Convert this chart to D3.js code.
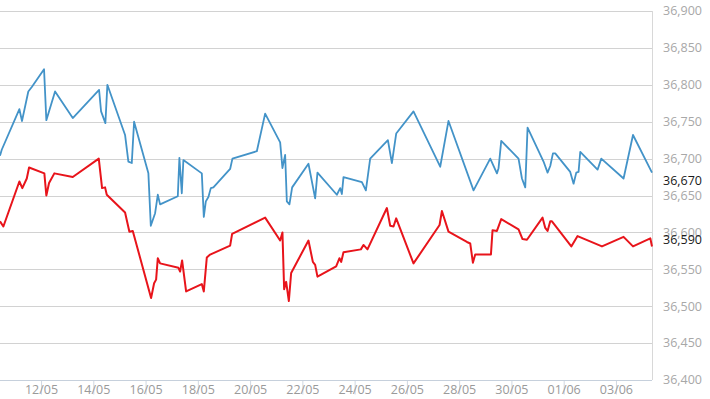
<!DOCTYPE html>
<html>
<head>
<meta charset="utf-8">
<script src="https://cdn.jsdelivr.net/npm/d3@7"></script>
<style>
    html, body { margin: 0; padding: 0; background: #fff; }
    svg { display: block; font-family: 'Open Sans', sans-serif; }
</style>
</head>
<body>
<div id="chart"></div>
<script>
(function () {
    'use strict'

    // blue series [time, value]
    var blueSeries = [
        ['2019-05-10 10:18', 36704], ['2019-05-10 11:54', 36712], ['2019-05-11 04:06', 36767],
        ['2019-05-11 06:30', 36751], ['2019-05-11 12:18', 36791], ['2019-05-11 15:30', 36797],
        ['2019-05-12 02:45', 36821], ['2019-05-12 04:52', 36752], ['2019-05-12 12:52', 36791],
        ['2019-05-13 05:08', 36755], ['2019-05-14 05:18', 36793], ['2019-05-14 07:08', 36764],
        ['2019-05-14 11:05', 36748], ['2019-05-14 12:55', 36800], ['2019-05-15 05:10', 36732],
        ['2019-05-15 08:12', 36696], ['2019-05-15 11:20', 36694], ['2019-05-15 13:27', 36750],
        ['2019-05-16 02:35', 36680], ['2019-05-16 04:48', 36609], ['2019-05-16 08:45', 36626],
        ['2019-05-16 11:13', 36651], ['2019-05-16 13:20', 36638], ['2019-05-17 05:36', 36649],
        ['2019-05-17 07:04', 36701], ['2019-05-17 09:16', 36653], ['2019-05-17 10:44', 36698],
        ['2019-05-18 03:39', 36680], ['2019-05-18 05:29', 36621], ['2019-05-18 07:20', 36642],
        ['2019-05-18 09:43', 36648], ['2019-05-18 11:55', 36660], ['2019-05-18 14:18', 36661],
        ['2019-05-19 05:40', 36686], ['2019-05-19 07:46', 36700], ['2019-05-20 06:11', 36710],
        ['2019-05-20 13:49', 36761], ['2019-05-21 03:36', 36722], ['2019-05-21 05:42', 36687],
        ['2019-05-21 08:11', 36705], ['2019-05-21 09:44', 36642], ['2019-05-21 12:08', 36638],
        ['2019-05-21 14:37', 36661], ['2019-05-22 05:36', 36693], ['2019-05-22 11:45', 36646],
        ['2019-05-22 13:52', 36681], ['2019-05-23 07:41', 36651], ['2019-05-23 10:43', 36660],
        ['2019-05-23 12:17', 36652], ['2019-05-23 13:46', 36675], ['2019-05-24 06:40', 36668],
        ['2019-05-24 10:20', 36657], ['2019-05-24 14:17', 36700], ['2019-05-25 06:33', 36725],
        ['2019-05-25 10:13', 36694], ['2019-05-25 14:11', 36734], ['2019-05-26 06:04', 36764],
        ['2019-05-27 06:36', 36689], ['2019-05-27 14:13', 36751], ['2019-05-28 13:13', 36657],
        ['2019-05-29 04:33', 36700], ['2019-05-29 10:42', 36680], ['2019-05-29 12:11', 36687],
        ['2019-05-29 14:39', 36724], ['2019-05-30 06:32', 36700], ['2019-05-30 09:40', 36673],
        ['2019-05-30 12:42', 36661], ['2019-05-30 14:50', 36742], ['2019-05-31 05:30', 36696],
        ['2019-05-31 09:12', 36681], ['2019-05-31 11:40', 36690], ['2019-05-31 14:08', 36707],
        ['2019-05-31 16:16', 36707], ['2019-06-01 06:00', 36682], ['2019-06-01 09:05', 36666],
        ['2019-06-01 11:34', 36681], ['2019-06-01 13:40', 36682], ['2019-06-01 15:13', 36709],
        ['2019-06-02 07:07', 36685], ['2019-06-02 10:32', 36700], ['2019-06-03 07:00', 36673],
        ['2019-06-03 15:40', 36732], ['2019-06-04 09:07', 36681]
    ]

    // red series [time, value]
    var redSeries = [
        ['2019-05-10 10:18', 36615], ['2019-05-10 13:24', 36608], ['2019-05-11 04:06', 36669],
        ['2019-05-11 06:48', 36660], ['2019-05-11 10:54', 36673], ['2019-05-11 13:00', 36688],
        ['2019-05-12 03:02', 36680], ['2019-05-12 04:52', 36650], ['2019-05-12 07:21', 36667],
        ['2019-05-12 12:13', 36680], ['2019-05-13 05:08', 36675], ['2019-05-14 05:01', 36700],
        ['2019-05-14 08:03', 36660], ['2019-05-14 10:48', 36661], ['2019-05-14 12:22', 36651],
        ['2019-05-15 05:10', 36627], ['2019-05-15 09:08', 36601], ['2019-05-15 12:15', 36602],
        ['2019-05-16 05:04', 36511], ['2019-05-16 07:50', 36531], ['2019-05-16 09:40', 36536],
        ['2019-05-16 11:13', 36565], ['2019-05-16 13:20', 36558], ['2019-05-17 06:09', 36552],
        ['2019-05-17 07:43', 36547], ['2019-05-17 09:33', 36562], ['2019-05-17 13:14', 36520],
        ['2019-05-18 03:39', 36530], ['2019-05-18 05:29', 36520], ['2019-05-18 08:14', 36566],
        ['2019-05-18 11:17', 36570], ['2019-05-19 05:40', 36582], ['2019-05-19 07:30', 36598],
        ['2019-05-20 13:49', 36620], ['2019-05-21 03:36', 36589], ['2019-05-21 05:42', 36600],
        ['2019-05-21 07:16', 36523], ['2019-05-21 09:07', 36533], ['2019-05-21 11:35', 36507],
        ['2019-05-21 13:42', 36545], ['2019-05-22 05:36', 36589], ['2019-05-22 09:38', 36560],
        ['2019-05-22 11:45', 36556], ['2019-05-22 13:52', 36540], ['2019-05-23 07:03', 36554],
        ['2019-05-23 10:05', 36565], ['2019-05-23 11:38', 36560], ['2019-05-23 13:46', 36573],
        ['2019-05-24 05:44', 36577], ['2019-05-24 08:07', 36583], ['2019-05-24 11:48', 36577],
        ['2019-05-25 05:37', 36633], ['2019-05-25 08:40', 36609], ['2019-05-25 11:42', 36608],
        ['2019-05-25 14:11', 36619], ['2019-05-26 06:04', 36558], ['2019-05-27 06:00', 36610],
        ['2019-05-27 08:10', 36629], ['2019-05-27 14:13', 36601], ['2019-05-28 07:08', 36587],
        ['2019-05-28 10:10', 36585], ['2019-05-28 12:38', 36559], ['2019-05-28 14:45', 36570],
        ['2019-05-29 05:11', 36570], ['2019-05-29 06:40', 36603], ['2019-05-29 10:42', 36602],
        ['2019-05-29 14:39', 36618], ['2019-05-30 06:32', 36604], ['2019-05-30 10:13', 36591],
        ['2019-05-30 14:16', 36590], ['2019-05-31 04:36', 36620], ['2019-05-31 07:05', 36606],
        ['2019-05-31 09:12', 36602], ['2019-05-31 11:40', 36615], ['2019-05-31 13:14', 36615],
        ['2019-06-01 07:00', 36581], ['2019-06-01 12:45', 36595], ['2019-06-02 11:10', 36581],
        ['2019-06-03 07:00', 36594], ['2019-06-03 15:40', 36581], ['2019-06-04 07:33', 36592],
        ['2019-06-04 09:07', 36581]
    ]

    var yTicks = [36400, 36450, 36500, 36550, 36600, 36650, 36700, 36750, 36800, 36850, 36900]
    var lastLabels = [36670, 36590]
    var xTickStart = '2019-05-12 00:00'
    var xTickEnd = '2019-06-04 00:00'

    var parse = d3.timeParse('%Y-%m-%d %H:%M')
    var fmtY = d3.format(',')
    var fmtX = d3.timeFormat('%d/%m')

    var width = 710,
        height = 399,
        plot = { left: 0, right: 652, top: 11, bottom: 380 }

    var blue = blueSeries.map(function (d) { return { t: parse(d[0]), v: d[1] } })
    var red = redSeries.map(function (d) { return { t: parse(d[0]), v: d[1] } })

    var x = d3.scaleTime()
        .domain(d3.extent(blue.concat(red), function (d) { return d.t }))
        .range([plot.left, plot.right])

    var y = d3.scaleLinear()
        .domain([36400, 36900])
        .range([plot.bottom, plot.top])

    var svg = d3.select('#chart')
        .append('svg')
        .attr('width', width)
        .attr('height', height)

    //Grid lines
    svg.append('g')
        .selectAll('line')
        .data(yTicks).enter()
        .append('line')
        .attr('x1', plot.left)
        .attr('x2', plot.right)
        .attr('y1', function (d) { return Math.round(y(d)) + 0.5 })
        .attr('y2', function (d) { return Math.round(y(d)) + 0.5 })
        .style('stroke', '#d2d2d2')
        .style('stroke-width', 1)

    // right border
    svg.append('line')
        .attr('x1', plot.right + 0.5).attr('x2', plot.right + 0.5)
        .attr('y1', plot.top).attr('y2', plot.bottom)
        .style('stroke', '#d8d8d8')

    // y labels
    svg.append('g')
        .selectAll('text')
        .data(yTicks).enter()
        .append('text')
        .attr('x', 663)
        .attr('y', function (d) { return y(d) })
        .attr('dy', '0.35em')
        .style('font-size', '12.5px')
        .style('fill', '#a8a8a8')
        .text(fmtY)

    // last value labels
    svg.append('g')
        .selectAll('text')
        .data(lastLabels).enter()
        .append('text')
        .attr('x', 663)
        .attr('y', function (d) { return y(d) })
        .attr('dy', '0.35em')
        .style('font-size', '12.5px')
        .style('fill', '#1a1a1a')
        .text(fmtY)

    //X axis
    var xTicks = d3.timeDay.range(parse(xTickStart), parse(xTickEnd), 2)
    var xAxis = d3.axisBottom(x)
        .tickValues(xTicks)
        .tickFormat(fmtX)
        .tickSize(14)
        .tickPadding(-9)

    var gx = svg.append('g')
        .attr('transform', 'translate(0,' + (plot.bottom + 0.5) + ')')
        .call(xAxis)
    gx.select('.domain').remove()
    gx.selectAll('.tick line').style('stroke', '#d0d8e2')
    gx.selectAll('.tick text')
        .style('font-family', "'Open Sans', sans-serif")
        .style('font-size', '12.5px')
        .style('fill', '#9a9a9a')
    gx.append('line')
        .attr('x1', plot.left).attr('x2', plot.right)
        .style('stroke', '#c6d0dc')

    // lines
    var line = d3.line()
        .x(function (d) { return x(d.t) })
        .y(function (d) { return y(d.v) })

    svg.append('path')
        .datum(blue)
        .attr('d', line)
        .style('fill', 'none')
        .style('stroke', '#4393c8')
        .style('stroke-width', 1.8)
        .style('stroke-linejoin', 'round')

    svg.append('path')
        .datum(red)
        .attr('d', line)
        .style('fill', 'none')
        .style('stroke', '#e8141b')
        .style('stroke-width', 2)
        .style('stroke-linejoin', 'round')
})()
</script>
</body>
</html>
